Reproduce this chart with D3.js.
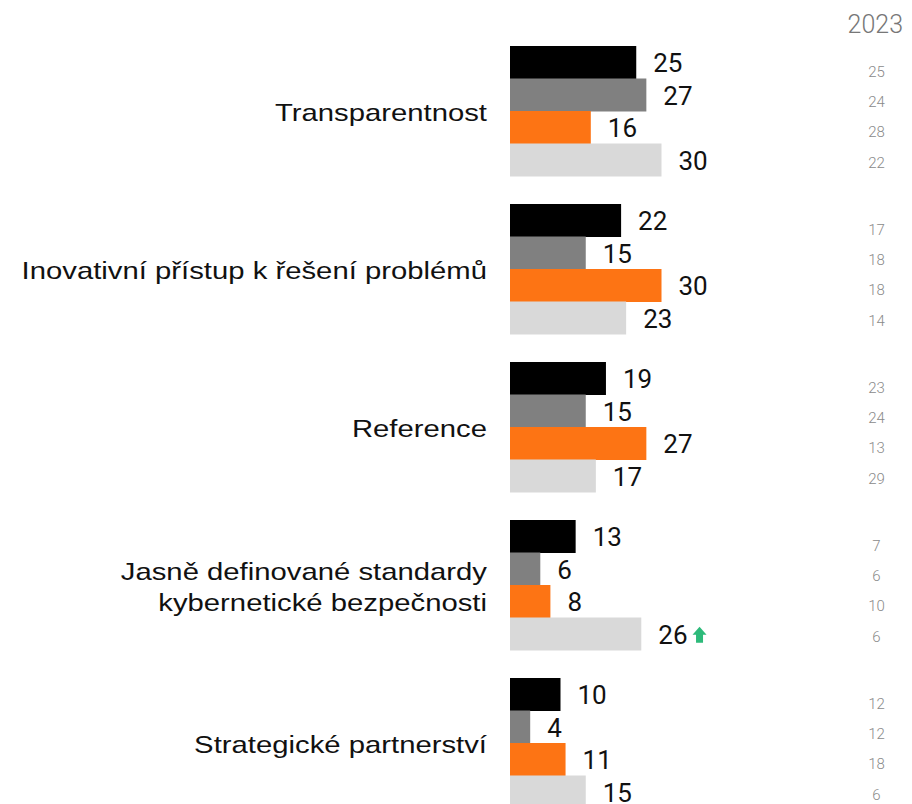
<!DOCTYPE html>
<html>
<head>
<meta charset="utf-8">
<script src="https://cdn.jsdelivr.net/npm/d3@7"></script>
<style>
  html, body { margin: 0; padding: 0; background: #fff; }
  svg { display: block; }
</style>
</head>
<body>
<svg id="chart" width="912" height="804"></svg>
<script>
// Categories (one group of four bars each)
const categories = [
  "Transparentnost",
  "Inovativní přístup k řešení problémů",
  "Reference",
  "Jasně definované standardy kybernetické bezpečnosti",
  "Strategické partnerství"
];
// Label lines for each category
const categoryLines = [
  ["Transparentnost"],
  ["Inovativní přístup k řešení problémů"],
  ["Reference"],
  ["Jasně definované standardy", "kybernetické bezpečnosti"],
  ["Strategické partnerství"]
];

// Series values (same category order)
const seriesA = [25, 22, 19, 13, 10];
const seriesB = [27, 15, 15, 6, 4];
const seriesC = [16, 30, 27, 8, 11];
const seriesD = [30, 23, 17, 26, 15];

// Comparison column (previous year), four values per category
const prevYearLabel = "2023";
const prevYear = [
  [25, 24, 28, 22],
  [17, 18, 18, 14],
  [23, 24, 13, 29],
  [7, 6, 10, 6],
  [12, 12, 18, 6]
];

// Marks with an upward arrow: [category index, series index]
const upMarks = [[3, 3]];

const seriesKeys = ["A", "B", "C", "D"];
const seriesColors = ["#000000", "#808080", "#fd7414", "#d9d9d9"];
const seriesValues = [seriesA, seriesB, seriesC, seriesD];

const svg = d3.select("#chart");

const y = d3.scaleBand()
  .domain(categories)
  .range([46, 808])
  .paddingInner(28 / 158)
  .paddingOuter(0);

const ySub = d3.scaleBand()
  .domain(seriesKeys)
  .range([0, y.bandwidth()])
  .padding(0);

const x = d3.scaleLinear()
  .domain([0, 30])
  .range([510, 661.5]);

const prevY = d3.scaleLinear()
  .domain([0, 3])
  .range([25.5, 25.5 + 3 * 30.3]);

const groups = svg.selectAll("g.group")
  .data(categories)
  .join("g")
  .attr("class", "group")
  .attr("transform", d => `translate(0,${y(d)})`);

// Bars and value labels
groups.each(function (cat, ci) {
  const g = d3.select(this);
  seriesKeys.forEach((k, si) => {
    const v = seriesValues[si][ci];
    g.append("rect")
      .attr("x", x(0))
      .attr("y", ySub(k))
      .attr("width", x(v) - x(0))
      .attr("height", ySub.bandwidth() + 0.5)
      .attr("fill", seriesColors[si]);
    const t = g.append("text")
      .attr("x", x(v) + 17)
      .attr("y", ySub(k) + ySub.bandwidth() / 2 + 1)
      .attr("dy", "0.35em")
      .attr("font-family", "Roboto, sans-serif")
      .attr("font-size", 26)
      .attr("fill", "#111")
      .text(v);
    if (upMarks.some(m => m[0] === ci && m[1] === si)) {
      const tx = x(v) + 17 + t.node().getComputedTextLength() + 5;
      const cy = ySub(k) + ySub.bandwidth() / 2 + 2;
      const arrow = d3.path();
      arrow.moveTo(tx + 7, cy - 9);
      arrow.lineTo(tx + 14, cy - 1);
      arrow.lineTo(tx + 10.5, cy - 1);
      arrow.lineTo(tx + 10.5, cy + 7);
      arrow.lineTo(tx + 3.5, cy + 7);
      arrow.lineTo(tx + 3.5, cy - 1);
      arrow.lineTo(tx, cy - 1);
      arrow.closePath();
      g.append("path").attr("d", arrow.toString()).attr("fill", "#2dba7a");
    }
  });

  // Category label, right-aligned left of the bars (slightly widened type)
  const lines = categoryLines[ci];
  const lh = 31;
  const c = y.bandwidth() / 2;
  const label = g.append("text")
    .attr("transform", `translate(487,${c + 2}) scale(1.22,1)`)
    .attr("text-anchor", "end")
    .attr("font-family", "'Liberation Sans', Arial, sans-serif")
    .attr("font-size", 24)
    .attr("fill", "#111");
  lines.forEach((ln, li) => {
    label.append("tspan")
      .attr("x", 0)
      .attr("y", (li - (lines.length - 1) / 2) * lh)
      .attr("dy", "0.35em")
      .text(ln);
  });

  // Previous-year comparison column
  prevYear[ci].forEach((pv, pi) => {
    g.append("text")
      .attr("x", 876.5)
      .attr("y", prevY(pi))
      .attr("dy", "0.35em")
      .attr("text-anchor", "middle")
      .attr("font-family", "Roboto, sans-serif")
      .attr("font-weight", 300)
      .attr("font-size", 15)
      .attr("fill", "#8a8a8a")
      .text(pv);
  });
});

// Column header
svg.append("text")
  .attr("x", 903)
  .attr("y", 24)
  .attr("dy", "0.35em")
  .attr("text-anchor", "end")
  .attr("font-family", "Roboto, sans-serif")
  .attr("font-weight", 300)
  .attr("font-size", 25)
  .attr("fill", "#777")
  .text(prevYearLabel);
</script>
</body>
</html>
